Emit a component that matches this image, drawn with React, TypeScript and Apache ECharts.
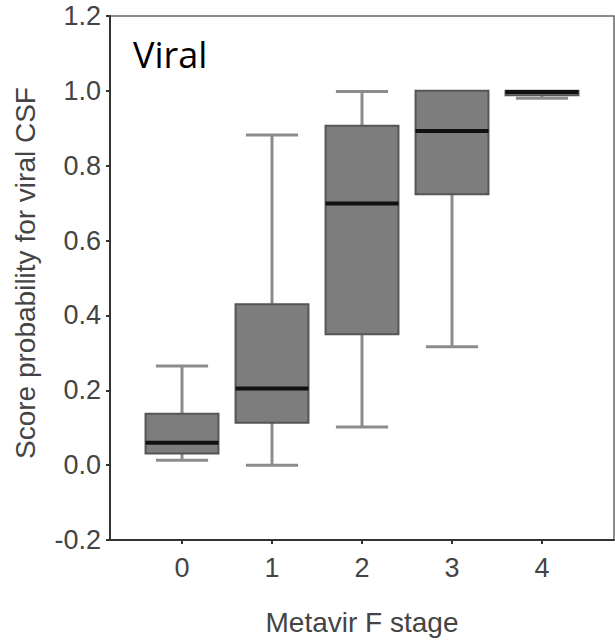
import React, { useEffect, useRef } from "react";
import * as echarts from "echarts";

const stages = [0, 1, 2, 3, 4];
const mins = [0.013, 0.0, 0.102, 0.316, 0.98];
const q1s = [0.031, 0.113, 0.35, 0.724, 0.988];
const medians = [0.06, 0.205, 0.699, 0.893, 0.997];
const q3s = [0.137, 0.43, 0.907, 1.0, 1.0];
const maxs = [0.265, 0.882, 0.998, 1.0, 1.0];
const yTicks = [-0.2, 0, 0.2, 0.4, 0.6, 0.8, 1.0, 1.2];

const xTitle = "Metavir F stage";
const yTitle = "Score probability for viral CSF";
const panelLabel = "Viral";

export default function App() {
  const ref = useRef<HTMLDivElement>(null);
  useEffect(() => {
    if (!ref.current) return;
    const chart = echarts.init(ref.current, null, { renderer: "svg" });
    const data = stages.map((s, i) => [s, mins[i], q1s[i], medians[i], q3s[i], maxs[i]]);
    const font = "'Liberation Sans', Arial, Helvetica, sans-serif";
    chart.setOption({
      animation: false,
      grid: {
        left: 110,
        right: 1,
        top: 16,
        bottom: 102,
        show: true,
        borderColor: "#666",
        borderWidth: 1.5,
        backgroundColor: "transparent",
      },
      xAxis: {
        type: "value",
        min: -0.8,
        max: 4.8,
        splitLine: { show: false },
        axisLine: { show: true, onZero: false, lineStyle: { color: "#333", width: 2 } },
        axisTick: { show: true, length: 4, customValues: stages, lineStyle: { color: "#333", width: 2 } },
        axisLabel: {
          customValues: stages,
          margin: 14,
          fontSize: 27,
          color: "#444",
          fontFamily: font,
          formatter: (v: number) => String(v),
        },
      },
      yAxis: {
        type: "value",
        min: -0.2,
        max: 1.2,
        interval: 0.2,
        splitLine: { show: false },
        axisLine: { show: true, onZero: false, lineStyle: { color: "#333", width: 2 } },
        axisTick: { show: true, length: 4, lineStyle: { color: "#333", width: 2 } },
        axisLabel: {
          margin: 9,
          fontSize: 27,
          color: "#444",
          fontFamily: font,
          formatter: (v: number) => {
            const t = yTicks.find((k) => Math.abs(k - v) < 1e-6);
            return (t !== undefined ? t : v).toFixed(1);
          },
        },
      },
      graphic: [
        {
          type: "text",
          left: 133,
          top: 36,
          style: {
            text: panelLabel,
            font: "36px 'Open Sans', sans-serif",
            fill: "#000",
          },
        },
        {
          type: "text",
          x: 362,
          y: 622,
          style: {
            text: xTitle,
            font: `28px ${font}`,
            fill: "#444",
            align: "center",
            verticalAlign: "middle",
          },
        },
        {
          type: "text",
          x: 25,
          y: 273,
          rotation: Math.PI / 2,
          style: {
            text: yTitle,
            font: `28px ${font}`,
            fill: "#444",
            align: "center",
            verticalAlign: "middle",
          },
        },
      ],
      series: [
        {
          type: "custom",
          clip: false,
          encode: { x: 0, y: [1, 2, 3, 4, 5] },
          data,
          renderItem: (params: any, api: any) => {
            const x = api.value(0);
            const vMin = api.value(1);
            const vQ1 = api.value(2);
            const vMed = api.value(3);
            const vQ3 = api.value(4);
            const vMax = api.value(5);
            const boxW = api.size([0.81, 0])[0];
            const capW = api.size([0.58, 0])[0];
            const pMin = api.coord([x, vMin]);
            const pQ1 = api.coord([x, vQ1]);
            const pMed = api.coord([x, vMed]);
            const pQ3 = api.coord([x, vQ3]);
            const pMax = api.coord([x, vMax]);
            const cx = pMin[0];
            const whisk = { stroke: "#8c8c8c", lineWidth: 3 };
            const children: any[] = [];
            if (pMax[1] < pQ3[1] - 0.5) {
              children.push({ type: "line", shape: { x1: cx, y1: pQ3[1], x2: cx, y2: pMax[1] }, style: whisk });
              children.push({ type: "line", shape: { x1: cx - capW / 2, y1: pMax[1], x2: cx + capW / 2, y2: pMax[1] }, style: whisk });
            }
            if (pMin[1] > pQ1[1] + 0.5) {
              children.push({ type: "line", shape: { x1: cx, y1: pQ1[1], x2: cx, y2: pMin[1] }, style: whisk });
              children.push({ type: "line", shape: { x1: cx - capW / 2, y1: pMin[1], x2: cx + capW / 2, y2: pMin[1] }, style: whisk });
            }
            children.push({
              type: "rect",
              shape: { x: cx - boxW / 2, y: pQ3[1], width: boxW, height: Math.max(pQ1[1] - pQ3[1], 1) },
              style: { fill: "#7d7d7d", stroke: "#555", lineWidth: 2 },
            });
            children.push({
              type: "line",
              shape: { x1: cx - boxW / 2, y1: pMed[1], x2: cx + boxW / 2, y2: pMed[1] },
              style: { stroke: "#111", lineWidth: 4 },
            });
            return { type: "group", children };
          },
        },
      ],
    });
    return () => chart.dispose();
  }, []);
  return (
    <div
      ref={ref}
      style={{ position: "fixed", left: 0, top: 0, width: 615, height: 642, background: "#fff" }}
    />
  );
}
